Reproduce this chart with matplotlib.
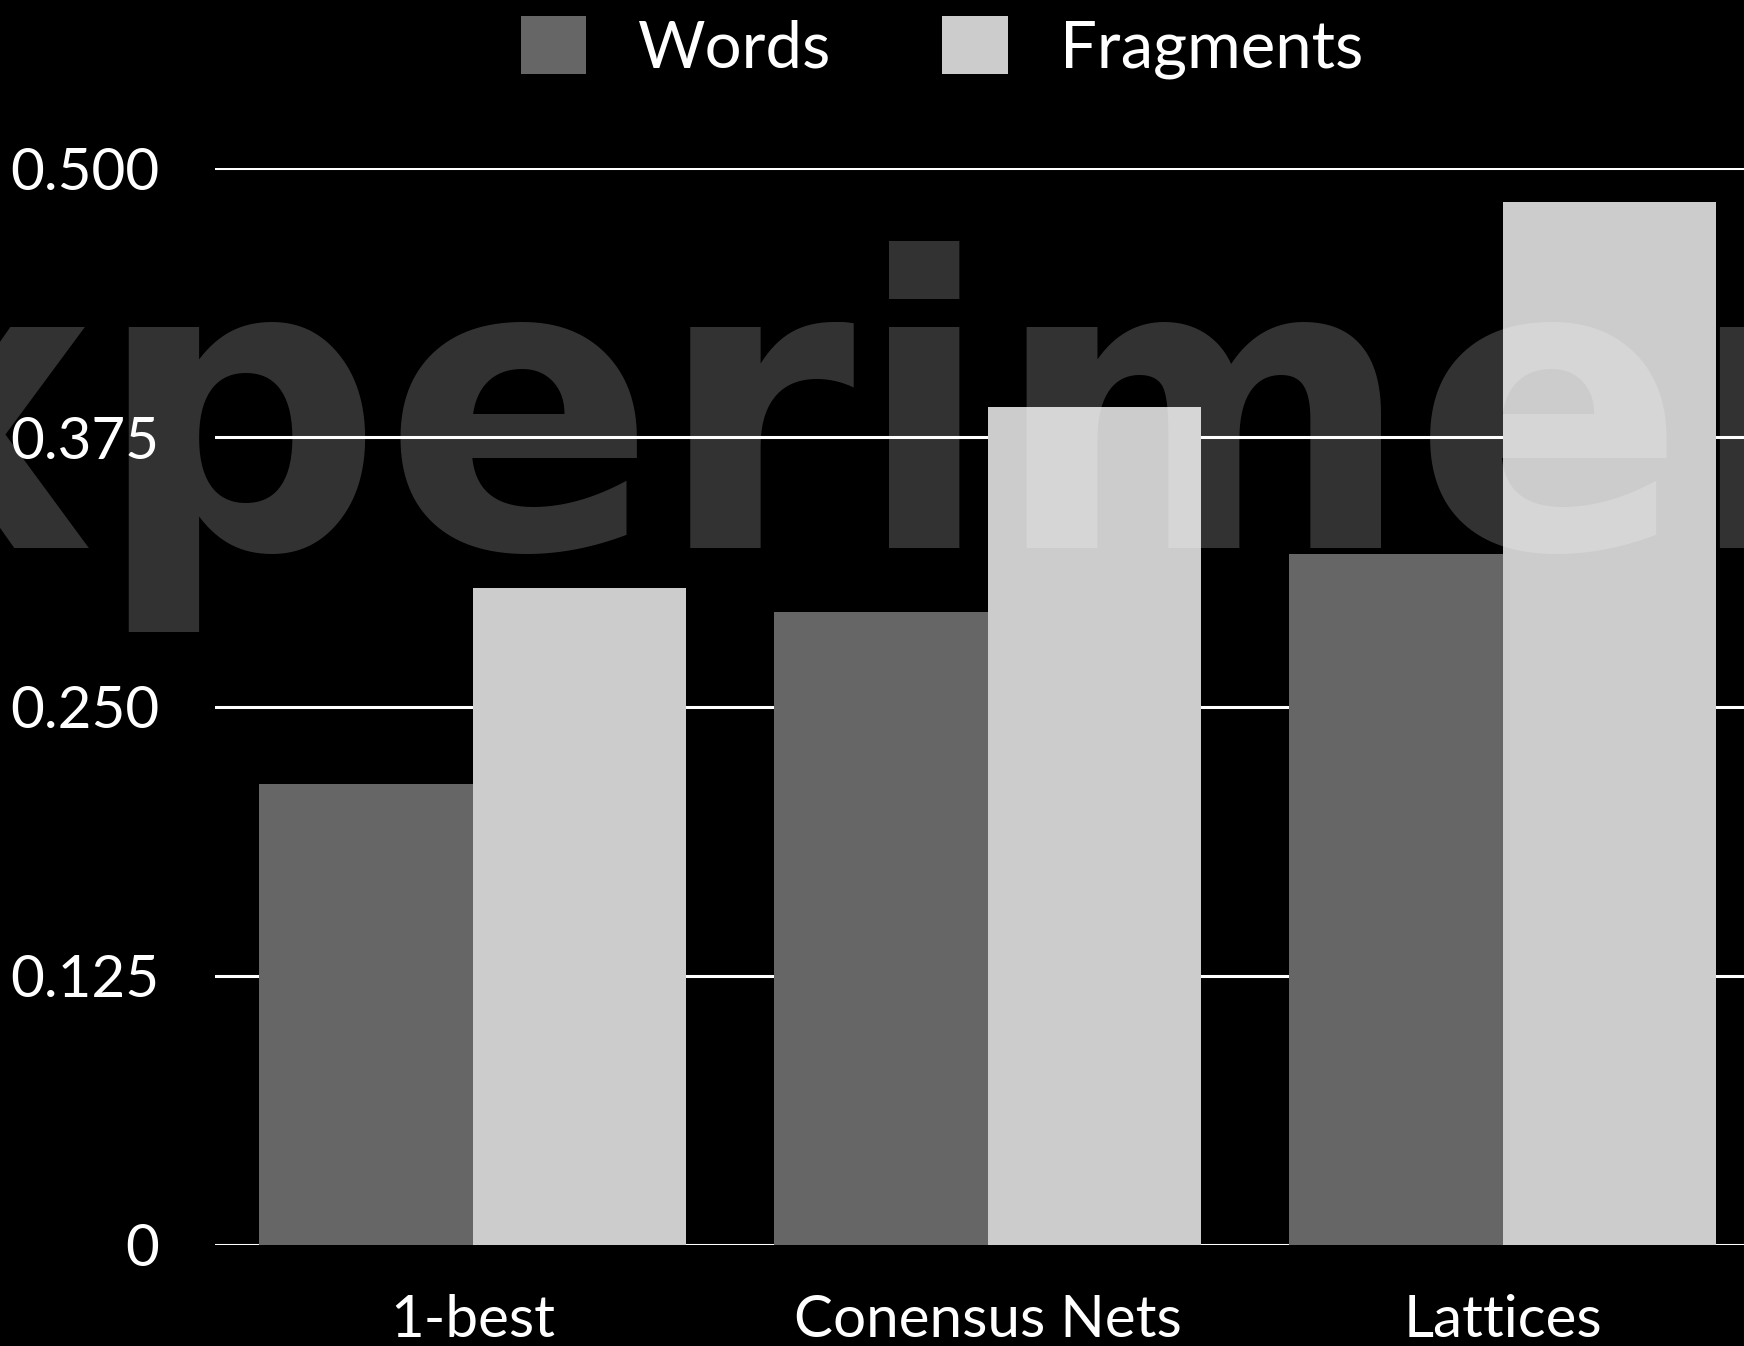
import matplotlib
matplotlib.use("Agg")
import matplotlib.pyplot as plt
import numpy as np

# data
categories = ["1-best", "Conensus Nets", "Lattices"]
words = [0.214, 0.294, 0.321]
fragments = [0.305, 0.389, 0.484]
yticks = [0, 0.125, 0.250, 0.375, 0.500]
ytick_labels = ["0", "0.125", "0.250", "0.375", "0.500"]

plt.rcParams["font.family"] = ["Lato", "DejaVu Sans"]

W, H = 1744, 1346
fig = plt.figure(figsize=(W / 100, H / 100), dpi=100, facecolor="black")

# axes runs a little past the right edge, like the slide crop
ax = fig.add_axes([215 / W, (H - 1245) / H, (1760 - 215) / W, (1245 - 168) / H])
ax.set_facecolor("none")

x = np.arange(len(categories))
bw = 0.415
ax.bar(x - bw / 2, words, width=bw, color="#666666", label="Words", zorder=2)
ax.bar(x + bw / 2, fragments, width=bw, color="#cccccc", label="Fragments", zorder=2)

ax.set_xlim(-0.5, 2.5)
ax.set_ylim(0, 0.5)
ax.set_yticks(yticks)
ax.set_yticklabels(ytick_labels)
ax.set_xticks(x)
ax.set_xticklabels(categories)
ax.grid(axis="y", color="white", linewidth=2.2, zorder=1)
ax.set_axisbelow(True)
for s in ax.spines.values():
    s.set_visible(False)
ax.tick_params(axis="y", length=0, pad=40, labelsize=42, labelcolor="white")
ax.tick_params(axis="x", length=0, pad=35, labelsize=42, labelcolor="white")

leg = fig.legend(loc="upper center", bbox_to_anchor=(0.5400, 0.993), ncol=2,
                 frameon=False, fontsize=47, handlelength=1.0, handleheight=1.0,
                 handletextpad=0.8, columnspacing=1.7, borderpad=0.1,
                 borderaxespad=0)
for t in leg.get_texts():
    t.set_color("white")

# faded slide title behind the chart
fig.canvas.draw()
r = fig.canvas.get_renderer()
tmp = fig.text(0, 0, "Ex", fontsize=290, fontweight="bold", family="DejaVu Sans")
w_ex = tmp.get_window_extent(r).width
tmp.remove()
fig.text((95 - w_ex) / W, (H - 548) / H, "Experiments", fontsize=290,
         fontweight="bold", family="DejaVu Sans", color="white", alpha=0.2,
         ha="left", va="baseline", zorder=10)

fig.savefig("out.png", dpi=100, facecolor="black")
